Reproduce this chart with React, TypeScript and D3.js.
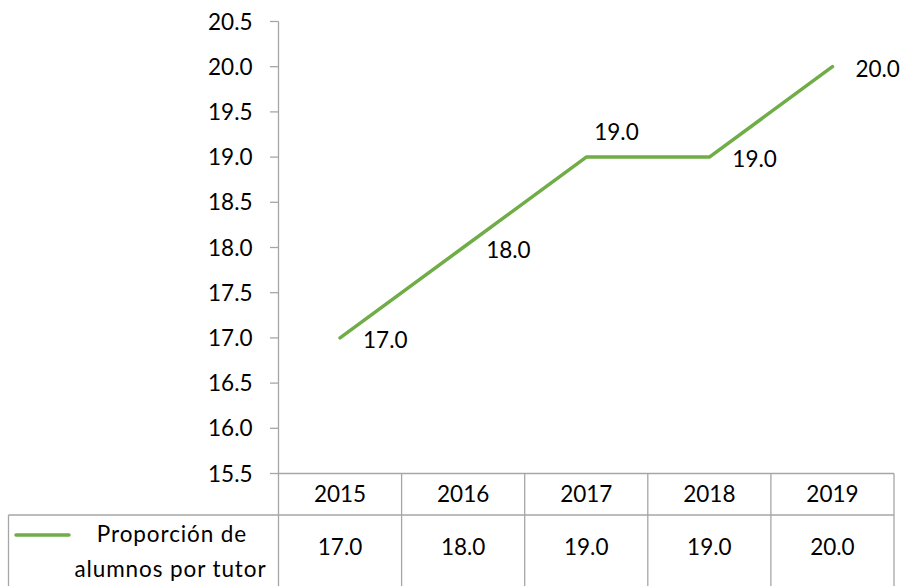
import React from "react";
import * as d3 from "d3";

const years = ["2015", "2016", "2017", "2018", "2019"];
const values = [17.0, 18.0, 19.0, 19.0, 20.0];
const yTicks = [15.5, 16.0, 16.5, 17.0, 17.5, 18.0, 18.5, 19.0, 19.5, 20.0, 20.5];
const seriesName = ["Proporción de", "alumnos por tutor"];

const W = 907;
const H = 586;
const FONT = "Lato, 'Open Sans', sans-serif";
const FS = 22.5;
const GREEN = "#70AD47";
const GRID = "#A6A6A6";

export default function App() {
  const x = d3.scaleBand<string>().domain(years).range([278.5, 894]).padding(0);
  const y = d3.scaleLinear().domain([15.5, 20.5]).range([473.5, 21.5]);
  const cx = (yr: string) => (x(yr) as number) + x.bandwidth() / 2;

  const line = d3
    .line<number>()
    .x((_, i) => cx(years[i]))
    .y((d) => y(d));

  const axisX = x.range()[0];
  const rightX = x.range()[1];
  const row1Top = y(15.5);
  const row2Top = 515;

  const labelPos = (i: number) => {
    const px = cx(years[i]);
    const py = y(values[i]);
    if (i === 2) return { lx: px + 8, ly: py - 25 };
    return { lx: px + 23, ly: py + 2 };
  };

  return (
    <svg
      width={W}
      height={H}
      style={{ position: "fixed", left: 0, top: 0, background: "#fff" }}
      fontFamily={FONT}
    >
      <rect x={0} y={0} width={W} height={H} fill="#fff" />
      <line x1={axisX} x2={axisX} y1={y(20.5)} y2={H} stroke={GRID} strokeWidth={1.3} />
      {yTicks.map((t) => (
        <g key={t}>
          <line x1={axisX - 8.5} x2={axisX} y1={y(t)} y2={y(t)} stroke={GRID} strokeWidth={1.3} />
          <text x={252.5} y={y(t)} dy="0.36em" textAnchor="end" fontSize={FS} fill="#000">
            {t.toFixed(1)}
          </text>
        </g>
      ))}

      <line x1={axisX} x2={rightX} y1={row1Top} y2={row1Top} stroke={GRID} strokeWidth={1.3} />
      <line x1={8.5} x2={rightX} y1={row2Top} y2={row2Top} stroke={GRID} strokeWidth={1.3} />
      <line x1={8.5} x2={8.5} y1={row2Top} y2={H} stroke={GRID} strokeWidth={1.3} />
      {years.map((yr) => (
        <line
          key={"v" + yr}
          x1={(x(yr) as number) + x.bandwidth()}
          x2={(x(yr) as number) + x.bandwidth()}
          y1={row1Top}
          y2={H}
          stroke={GRID}
          strokeWidth={1.3}
        />
      ))}
      {years.map((yr, i) => (
        <g key={"c" + yr}>
          <text x={cx(yr)} y={(row1Top + row2Top) / 2} dy="0.36em" textAnchor="middle" fontSize={FS}>
            {yr}
          </text>
          <text x={cx(yr)} y={547} dy="0.36em" textAnchor="middle" fontSize={FS}>
            {values[i].toFixed(1)}
          </text>
        </g>
      ))}
      <line x1={16} x2={69} y1={535} y2={535} stroke={GREEN} strokeWidth={3.5} strokeLinecap="round" />
      <text x={172} y={541.5} textAnchor="middle" fontSize={FS} letterSpacing={0.9}>
        {seriesName[0]}
      </text>
      <text x={170.5} y={576.5} textAnchor="middle" fontSize={FS} letterSpacing={0.9}>
        {seriesName[1]}
      </text>

      <path d={line(values) || ""} fill="none" stroke={GREEN} strokeWidth={3.5} strokeLinejoin="round" strokeLinecap="round" />
      {values.map((v, i) => {
        const { lx, ly } = labelPos(i);
        return (
          <text key={"l" + i} x={lx} y={ly} dy="0.36em" fontSize={FS} fill="#000">
            {v.toFixed(1)}
          </text>
        );
      })}
    </svg>
  );
}
